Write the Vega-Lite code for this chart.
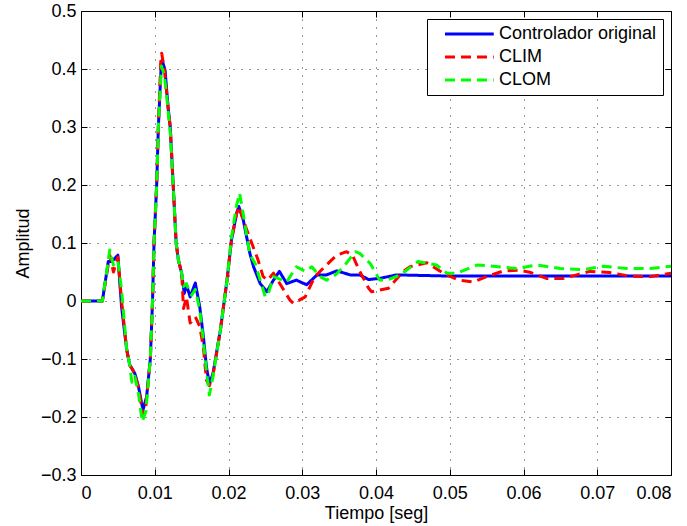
{
  "$schema": "https://vega.github.io/schema/vega-lite/v6.json",
  "width": 590,
  "height": 464,
  "autosize": {"type": "none"},
  "padding": {"left": 81, "top": 11, "right": 16, "bottom": 51},
  "background": "white",
  "datasets": {
    "series": [
      {"t": 0, "v": 0, "s": "Controlador original"},
      {"t": 0.0029, "v": 0, "s": "Controlador original"},
      {"t": 0.0037, "v": 0.068, "s": "Controlador original"},
      {"t": 0.0042, "v": 0.068, "s": "Controlador original"},
      {"t": 0.0050, "v": 0.079, "s": "Controlador original"},
      {"t": 0.0055, "v": -0.01, "s": "Controlador original"},
      {"t": 0.0062, "v": -0.084, "s": "Controlador original"},
      {"t": 0.0066, "v": -0.11, "s": "Controlador original"},
      {"t": 0.0073, "v": -0.125, "s": "Controlador original"},
      {"t": 0.0078, "v": -0.148, "s": "Controlador original"},
      {"t": 0.0084, "v": -0.188, "s": "Controlador original"},
      {"t": 0.0089, "v": -0.165, "s": "Controlador original"},
      {"t": 0.0094, "v": -0.10, "s": "Controlador original"},
      {"t": 0.0097, "v": 0.0, "s": "Controlador original"},
      {"t": 0.0099, "v": 0.1, "s": "Controlador original"},
      {"t": 0.01026, "v": 0.2, "s": "Controlador original"},
      {"t": 0.01049, "v": 0.3, "s": "Controlador original"},
      {"t": 0.01085, "v": 0.4, "s": "Controlador original"},
      {"t": 0.0110, "v": 0.415, "s": "Controlador original"},
      {"t": 0.0114, "v": 0.398, "s": "Controlador original"},
      {"t": 0.0118, "v": 0.335, "s": "Controlador original"},
      {"t": 0.0121, "v": 0.30, "s": "Controlador original"},
      {"t": 0.0125, "v": 0.2, "s": "Controlador original"},
      {"t": 0.0129, "v": 0.1, "s": "Controlador original"},
      {"t": 0.0132, "v": 0.071, "s": "Controlador original"},
      {"t": 0.01365, "v": 0.048, "s": "Controlador original"},
      {"t": 0.0140, "v": 0.013, "s": "Controlador original"},
      {"t": 0.0143, "v": 0.028, "s": "Controlador original"},
      {"t": 0.0148, "v": 0.007, "s": "Controlador original"},
      {"t": 0.0155, "v": 0.031, "s": "Controlador original"},
      {"t": 0.0161, "v": -0.010, "s": "Controlador original"},
      {"t": 0.0166, "v": -0.062, "s": "Controlador original"},
      {"t": 0.0170, "v": -0.113, "s": "Controlador original"},
      {"t": 0.0174, "v": -0.143, "s": "Controlador original"},
      {"t": 0.0179, "v": -0.125, "s": "Controlador original"},
      {"t": 0.0189, "v": -0.05, "s": "Controlador original"},
      {"t": 0.0198, "v": 0.036, "s": "Controlador original"},
      {"t": 0.0204, "v": 0.105, "s": "Controlador original"},
      {"t": 0.0211, "v": 0.151, "s": "Controlador original"},
      {"t": 0.0214, "v": 0.163, "s": "Controlador original"},
      {"t": 0.0220, "v": 0.14, "s": "Controlador original"},
      {"t": 0.0229, "v": 0.082, "s": "Controlador original"},
      {"t": 0.0234, "v": 0.059, "s": "Controlador original"},
      {"t": 0.0243, "v": 0.030, "s": "Controlador original"},
      {"t": 0.0252, "v": 0.016, "s": "Controlador original"},
      {"t": 0.0261, "v": 0.036, "s": "Controlador original"},
      {"t": 0.0269, "v": 0.051, "s": "Controlador original"},
      {"t": 0.0279, "v": 0.030, "s": "Controlador original"},
      {"t": 0.0292, "v": 0.036, "s": "Controlador original"},
      {"t": 0.0306, "v": 0.028, "s": "Controlador original"},
      {"t": 0.0320, "v": 0.045, "s": "Controlador original"},
      {"t": 0.0333, "v": 0.045, "s": "Controlador original"},
      {"t": 0.0347, "v": 0.052, "s": "Controlador original"},
      {"t": 0.0365, "v": 0.045, "s": "Controlador original"},
      {"t": 0.0378, "v": 0.045, "s": "Controlador original"},
      {"t": 0.0390, "v": 0.037, "s": "Controlador original"},
      {"t": 0.0405, "v": 0.039, "s": "Controlador original"},
      {"t": 0.0428, "v": 0.045, "s": "Controlador original"},
      {"t": 0.0500, "v": 0.043, "s": "Controlador original"},
      {"t": 0.0600, "v": 0.043, "s": "Controlador original"},
      {"t": 0.0700, "v": 0.043, "s": "Controlador original"},
      {"t": 0.0800, "v": 0.043, "s": "Controlador original"},

      {"t": 0, "v": 0, "s": "CLIM"},
      {"t": 0.0029, "v": 0, "s": "CLIM"},
      {"t": 0.0039, "v": 0.079, "s": "CLIM"},
      {"t": 0.0044, "v": 0.05, "s": "CLIM"},
      {"t": 0.0050, "v": 0.076, "s": "CLIM"},
      {"t": 0.0055, "v": 0.0, "s": "CLIM"},
      {"t": 0.0062, "v": -0.084, "s": "CLIM"},
      {"t": 0.0066, "v": -0.11, "s": "CLIM"},
      {"t": 0.0073, "v": -0.125, "s": "CLIM"},
      {"t": 0.0078, "v": -0.15, "s": "CLIM"},
      {"t": 0.0084, "v": -0.197, "s": "CLIM"},
      {"t": 0.0088, "v": -0.18, "s": "CLIM"},
      {"t": 0.0094, "v": -0.10, "s": "CLIM"},
      {"t": 0.0097, "v": 0.0, "s": "CLIM"},
      {"t": 0.0099, "v": 0.1, "s": "CLIM"},
      {"t": 0.01026, "v": 0.2, "s": "CLIM"},
      {"t": 0.01049, "v": 0.3, "s": "CLIM"},
      {"t": 0.0108, "v": 0.41, "s": "CLIM"},
      {"t": 0.01094, "v": 0.427, "s": "CLIM"},
      {"t": 0.0113, "v": 0.40, "s": "CLIM"},
      {"t": 0.0118, "v": 0.335, "s": "CLIM"},
      {"t": 0.0121, "v": 0.30, "s": "CLIM"},
      {"t": 0.0125, "v": 0.2, "s": "CLIM"},
      {"t": 0.0129, "v": 0.1, "s": "CLIM"},
      {"t": 0.0132, "v": 0.071, "s": "CLIM"},
      {"t": 0.01365, "v": 0.048, "s": "CLIM"},
      {"t": 0.0139, "v": -0.013, "s": "CLIM"},
      {"t": 0.0143, "v": 0.007, "s": "CLIM"},
      {"t": 0.0148, "v": -0.038, "s": "CLIM"},
      {"t": 0.0155, "v": -0.027, "s": "CLIM"},
      {"t": 0.0161, "v": -0.044, "s": "CLIM"},
      {"t": 0.0166, "v": -0.08, "s": "CLIM"},
      {"t": 0.0170, "v": -0.136, "s": "CLIM"},
      {"t": 0.0174, "v": -0.146, "s": "CLIM"},
      {"t": 0.0179, "v": -0.128, "s": "CLIM"},
      {"t": 0.0189, "v": -0.05, "s": "CLIM"},
      {"t": 0.0198, "v": 0.036, "s": "CLIM"},
      {"t": 0.0204, "v": 0.105, "s": "CLIM"},
      {"t": 0.0211, "v": 0.151, "s": "CLIM"},
      {"t": 0.0214, "v": 0.163, "s": "CLIM"},
      {"t": 0.0220, "v": 0.14, "s": "CLIM"},
      {"t": 0.0225, "v": 0.122, "s": "CLIM"},
      {"t": 0.0240, "v": 0.071, "s": "CLIM"},
      {"t": 0.0247, "v": 0.042, "s": "CLIM"},
      {"t": 0.0253, "v": 0.036, "s": "CLIM"},
      {"t": 0.0261, "v": 0.048, "s": "CLIM"},
      {"t": 0.0272, "v": 0.025, "s": "CLIM"},
      {"t": 0.0283, "v": 0.002, "s": "CLIM"},
      {"t": 0.0288, "v": -0.004, "s": "CLIM"},
      {"t": 0.0304, "v": 0.007, "s": "CLIM"},
      {"t": 0.0317, "v": 0.042, "s": "CLIM"},
      {"t": 0.0340, "v": 0.071, "s": "CLIM"},
      {"t": 0.0347, "v": 0.079, "s": "CLIM"},
      {"t": 0.0360, "v": 0.085, "s": "CLIM"},
      {"t": 0.0368, "v": 0.079, "s": "CLIM"},
      {"t": 0.0378, "v": 0.051, "s": "CLIM"},
      {"t": 0.0390, "v": 0.022, "s": "CLIM"},
      {"t": 0.0394, "v": 0.016, "s": "CLIM"},
      {"t": 0.0417, "v": 0.022, "s": "CLIM"},
      {"t": 0.0437, "v": 0.051, "s": "CLIM"},
      {"t": 0.0446, "v": 0.059, "s": "CLIM"},
      {"t": 0.0469, "v": 0.066, "s": "CLIM"},
      {"t": 0.0491, "v": 0.048, "s": "CLIM"},
      {"t": 0.0512, "v": 0.036, "s": "CLIM"},
      {"t": 0.0532, "v": 0.033, "s": "CLIM"},
      {"t": 0.0550, "v": 0.042, "s": "CLIM"},
      {"t": 0.0573, "v": 0.052, "s": "CLIM"},
      {"t": 0.0595, "v": 0.053, "s": "CLIM"},
      {"t": 0.0610, "v": 0.049, "s": "CLIM"},
      {"t": 0.0631, "v": 0.039, "s": "CLIM"},
      {"t": 0.0654, "v": 0.039, "s": "CLIM"},
      {"t": 0.0672, "v": 0.045, "s": "CLIM"},
      {"t": 0.0690, "v": 0.051, "s": "CLIM"},
      {"t": 0.0717, "v": 0.049, "s": "CLIM"},
      {"t": 0.0744, "v": 0.043, "s": "CLIM"},
      {"t": 0.0772, "v": 0.042, "s": "CLIM"},
      {"t": 0.0800, "v": 0.048, "s": "CLIM"},

      {"t": 0, "v": 0, "s": "CLOM"},
      {"t": 0.0029, "v": 0, "s": "CLOM"},
      {"t": 0.0039, "v": 0.088, "s": "CLOM"},
      {"t": 0.0044, "v": 0.062, "s": "CLOM"},
      {"t": 0.0050, "v": 0.07, "s": "CLOM"},
      {"t": 0.0055, "v": 0.019, "s": "CLOM"},
      {"t": 0.0062, "v": -0.084, "s": "CLOM"},
      {"t": 0.0066, "v": -0.11, "s": "CLOM"},
      {"t": 0.0069, "v": -0.14, "s": "CLOM"},
      {"t": 0.0073, "v": -0.13, "s": "CLOM"},
      {"t": 0.0078, "v": -0.16, "s": "CLOM"},
      {"t": 0.0083, "v": -0.208, "s": "CLOM"},
      {"t": 0.0088, "v": -0.19, "s": "CLOM"},
      {"t": 0.0094, "v": -0.10, "s": "CLOM"},
      {"t": 0.0097, "v": 0.0, "s": "CLOM"},
      {"t": 0.0099, "v": 0.1, "s": "CLOM"},
      {"t": 0.01026, "v": 0.2, "s": "CLOM"},
      {"t": 0.01049, "v": 0.3, "s": "CLOM"},
      {"t": 0.0109, "v": 0.405, "s": "CLOM"},
      {"t": 0.0113, "v": 0.39, "s": "CLOM"},
      {"t": 0.0118, "v": 0.33, "s": "CLOM"},
      {"t": 0.0121, "v": 0.29, "s": "CLOM"},
      {"t": 0.0125, "v": 0.2, "s": "CLOM"},
      {"t": 0.0129, "v": 0.1, "s": "CLOM"},
      {"t": 0.0132, "v": 0.071, "s": "CLOM"},
      {"t": 0.0137, "v": 0.045, "s": "CLOM"},
      {"t": 0.0139, "v": 0.025, "s": "CLOM"},
      {"t": 0.0143, "v": 0.03, "s": "CLOM"},
      {"t": 0.0146, "v": 0.019, "s": "CLOM"},
      {"t": 0.0150, "v": 0.01, "s": "CLOM"},
      {"t": 0.0155, "v": 0.02, "s": "CLOM"},
      {"t": 0.0161, "v": -0.015, "s": "CLOM"},
      {"t": 0.0166, "v": -0.07, "s": "CLOM"},
      {"t": 0.0170, "v": -0.12, "s": "CLOM"},
      {"t": 0.0174, "v": -0.162, "s": "CLOM"},
      {"t": 0.0179, "v": -0.13, "s": "CLOM"},
      {"t": 0.0189, "v": -0.05, "s": "CLOM"},
      {"t": 0.0198, "v": 0.036, "s": "CLOM"},
      {"t": 0.0204, "v": 0.11, "s": "CLOM"},
      {"t": 0.0211, "v": 0.165, "s": "CLOM"},
      {"t": 0.0215, "v": 0.186, "s": "CLOM"},
      {"t": 0.0220, "v": 0.15, "s": "CLOM"},
      {"t": 0.0229, "v": 0.08, "s": "CLOM"},
      {"t": 0.0236, "v": 0.065, "s": "CLOM"},
      {"t": 0.0250, "v": 0.007, "s": "CLOM"},
      {"t": 0.0254, "v": 0.013, "s": "CLOM"},
      {"t": 0.0261, "v": 0.042, "s": "CLOM"},
      {"t": 0.0279, "v": 0.033, "s": "CLOM"},
      {"t": 0.0292, "v": 0.059, "s": "CLOM"},
      {"t": 0.0304, "v": 0.051, "s": "CLOM"},
      {"t": 0.0313, "v": 0.059, "s": "CLOM"},
      {"t": 0.0324, "v": 0.042, "s": "CLOM"},
      {"t": 0.0333, "v": 0.036, "s": "CLOM"},
      {"t": 0.0345, "v": 0.045, "s": "CLOM"},
      {"t": 0.0356, "v": 0.059, "s": "CLOM"},
      {"t": 0.0372, "v": 0.085, "s": "CLOM"},
      {"t": 0.0378, "v": 0.082, "s": "CLOM"},
      {"t": 0.0392, "v": 0.065, "s": "CLOM"},
      {"t": 0.0405, "v": 0.036, "s": "CLOM"},
      {"t": 0.0415, "v": 0.036, "s": "CLOM"},
      {"t": 0.0433, "v": 0.045, "s": "CLOM"},
      {"t": 0.0457, "v": 0.068, "s": "CLOM"},
      {"t": 0.0482, "v": 0.062, "s": "CLOM"},
      {"t": 0.0496, "v": 0.048, "s": "CLOM"},
      {"t": 0.0510, "v": 0.048, "s": "CLOM"},
      {"t": 0.0537, "v": 0.062, "s": "CLOM"},
      {"t": 0.0559, "v": 0.060, "s": "CLOM"},
      {"t": 0.0591, "v": 0.056, "s": "CLOM"},
      {"t": 0.0618, "v": 0.062, "s": "CLOM"},
      {"t": 0.0650, "v": 0.056, "s": "CLOM"},
      {"t": 0.0681, "v": 0.054, "s": "CLOM"},
      {"t": 0.0708, "v": 0.060, "s": "CLOM"},
      {"t": 0.0740, "v": 0.056, "s": "CLOM"},
      {"t": 0.0772, "v": 0.056, "s": "CLOM"},
      {"t": 0.0800, "v": 0.060, "s": "CLOM"}
    ]
  },
  "data": {"name": "series"},
  "layer": [
    {
      "transform": [{"filter": "datum.s == 'Controlador original'"}],
      "mark": {"type": "line", "strokeWidth": 3, "strokeCap": "butt", "strokeJoin": "round"},
      "encoding": {
        "x": {"field": "t", "type": "quantitative", "scale": {"domain": [0, 0.08], "nice": false, "zero": false},
          "axis": {"orient": "bottom", "title": "Tiempo [seg]", "values": [0, 0.01, 0.02, 0.03, 0.04, 0.05, 0.06, 0.07, 0.08],
            "labelExpr": "datum.value == 0 ? '0' : format(datum.value, '.2f')", "grid": true, "labelPadding": 15, "titlePadding": 2}},
        "y": {"field": "v", "type": "quantitative", "scale": {"domain": [-0.3, 0.5], "nice": false, "zero": false},
          "axis": {"orient": "left", "title": "Amplitud", "values": [-0.3, -0.2, -0.1, 0, 0.1, 0.2, 0.3, 0.4, 0.5],
            "labelExpr": "datum.value == 0 ? '0' : format(datum.value, '.1f')", "grid": true, "labelPadding": 11, "titlePadding": 8}},
        "color": {"field": "s", "type": "nominal", "scale": {"domain": ["Controlador original", "CLIM", "CLOM"], "range": ["#0000ff", "#ff0000", "#00ff00"]},
          "legend": {"title": null, "orient": "none", "legendX": 346, "legendY": 8, "symbolType": "M0.6,0H10.35", "symbolSize": 100, "symbolStrokeWidth": 3,
            "labelFontSize": 18, "labelFont": "Liberation Sans", "labelColor": "black", "fillColor": "white", "strokeColor": "black", "padding": 6, "labelOffset": 48, "rowPadding": 5}},
        "strokeDash": {"field": "s", "type": "nominal", "scale": {"domain": ["Controlador original", "CLIM", "CLOM"], "range": [[1, 0], [10, 6], [10, 6]]}, "legend": null},
        "order": {"field": "t", "type": "quantitative"}
      }
    },
    {
      "transform": [{"filter": "datum.s == 'CLIM'"}],
      "mark": {"type": "line", "strokeWidth": 3, "strokeCap": "butt", "strokeJoin": "round"},
      "encoding": {
        "x": {"field": "t", "type": "quantitative", "axis": null},
        "y": {"field": "v", "type": "quantitative", "axis": null},
        "color": {"field": "s", "type": "nominal"},
        "strokeDash": {"field": "s", "type": "nominal", "legend": null},
        "order": {"field": "t", "type": "quantitative"}
      }
    },
    {
      "transform": [{"filter": "datum.s == 'CLOM'"}],
      "mark": {"type": "line", "strokeWidth": 3, "strokeCap": "butt", "strokeJoin": "round"},
      "encoding": {
        "x": {"field": "t", "type": "quantitative", "axis": null},
        "y": {"field": "v", "type": "quantitative", "axis": null},
        "color": {"field": "s", "type": "nominal"},
        "strokeDash": {"field": "s", "type": "nominal", "legend": null},
        "order": {"field": "t", "type": "quantitative"}
      }
    },
    {
      "transform": [{"filter": "datum.t == 0"}],
      "mark": {"type": "point", "opacity": 0},
      "encoding": {
        "x": {"field": "t", "type": "quantitative",
          "axis": {"orient": "top", "title": null, "labels": false, "grid": false, "values": [0, 0.01, 0.02, 0.03, 0.04, 0.05, 0.06, 0.07, 0.08]}},
        "y": {"field": "v", "type": "quantitative",
          "axis": {"orient": "right", "title": null, "labels": false, "grid": false, "values": [-0.3, -0.2, -0.1, 0, 0.1, 0.2, 0.3, 0.4, 0.5]}}
      }
    }
  ],
  "resolve": {"axis": {"x": "independent", "y": "independent"}},
  "config": {
    "view": {"stroke": "black", "strokeWidth": 1},
    "font": "Liberation Sans",
    "axis": {
      "labelFont": "Liberation Sans", "labelFontSize": 18, "labelColor": "black",
      "titleFont": "Liberation Sans", "titleFontSize": 18, "titleFontWeight": "normal", "titleColor": "black",
      "domain": false, "tickColor": "black", "tickSize": -6, "tickWidth": 1,
      "gridColor": "black", "gridDash": [1, 7], "gridOpacity": 0.8, "gridWidth": 1
    }
  }
}
